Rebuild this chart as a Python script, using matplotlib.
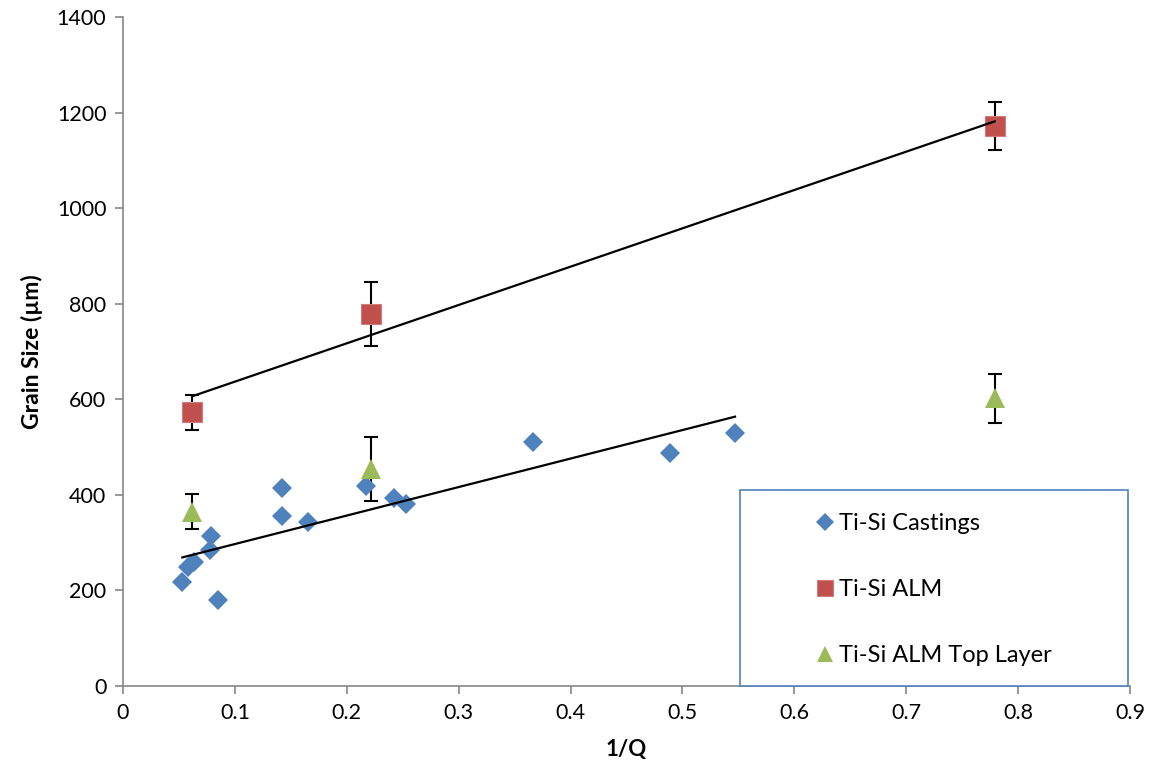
import numpy as np
import matplotlib
matplotlib.use("Agg")
from matplotlib import pyplot as plt
from matplotlib.patches import Rectangle

plt.rcParams['font.family'] = ['Lato', 'DejaVu Sans']

# Ti-Si castings (1/Q, grain size)
cast_x = [0.053, 0.058, 0.063, 0.078, 0.079, 0.085, 0.142, 0.142, 0.165, 0.217, 0.242, 0.253, 0.366, 0.489, 0.547]
cast_y = [218, 250, 260, 285, 314, 179, 414, 356, 343, 418, 394, 381, 511, 487, 529]

# Ti-Si ALM
alm_x = [0.062, 0.222, 0.779]
alm_y = [573, 778, 1172]
alm_err = [37, 67, 50]

# Ti-Si ALM top layer
top_x = [0.062, 0.222, 0.779]
top_y = [365, 454, 602]
top_err = [37, 67, 52]

xticks = [0, 0.1, 0.2, 0.3, 0.4, 0.5, 0.6, 0.7, 0.8, 0.9]
xticklabels = ['0', '0.1', '0.2', '0.3', '0.4', '0.5', '0.6', '0.7', '0.8', '0.9']
yticks = [0, 200, 400, 600, 800, 1000, 1200, 1400]

blue = '#4F81BD'
red = '#C0504D'
green = '#9BBB59'
grey = '#868686'

fig = plt.figure(figsize=(11.54, 7.75), dpi=100)
ax = fig.add_axes([0.1066, 0.1148, 0.8726, 0.8632])

# error bars below markers
ax.errorbar(alm_x, alm_y, yerr=alm_err, fmt='none', ecolor='black', elinewidth=1.5, capsize=5, capthick=1.5, zorder=2)
ax.errorbar(top_x, top_y, yerr=top_err, fmt='none', ecolor='black', elinewidth=1.5, capsize=5, capthick=1.5, zorder=2)

ax.plot(cast_x, cast_y, 'D', color=blue, markersize=10.5, markeredgewidth=0, label='Ti-Si Castings', zorder=3)
ax.plot(alm_x, alm_y, 's', color=red, markersize=14, markeredgecolor='#D27C7A', markeredgewidth=0.8, label='Ti-Si ALM', zorder=3)
ax.plot(top_x, top_y, '^', color=green, markersize=14, markeredgewidth=0, label='Ti-Si ALM Top Layer', zorder=3)

# linear trendlines
c = np.polyfit(cast_x, cast_y, 1)
xx = np.array([min(cast_x), max(cast_x)])
ax.plot(xx, np.polyval(c, xx), color='black', linewidth=1.6, zorder=4)
a = np.polyfit(alm_x, alm_y, 1)
xx = np.array([min(alm_x), max(alm_x)])
ax.plot(xx, np.polyval(a, xx), color='black', linewidth=1.6, zorder=4)

ax.set_xlim(0, 0.9)
ax.set_ylim(0, 1400)
ax.set_xticks(xticks)
ax.set_xticklabels(xticklabels)
ax.set_yticks(yticks)
for s in ['top', 'right']:
    ax.spines[s].set_visible(False)
for s in ['left', 'bottom']:
    ax.spines[s].set_color(grey)
    ax.spines[s].set_linewidth(1.2)
ax.tick_params(direction='out', length=6, width=1.2, color=grey, labelsize=15.5, pad=6)

ax.set_xlabel('1/Q', fontsize=16, fontweight='bold', labelpad=12)
ax.set_ylabel('Grain Size (µm)', fontsize=16.5, fontweight='bold', labelpad=10)

# legend box
ax.add_patch(Rectangle((0.6127, 0.0), 0.3853, 0.293, transform=ax.transAxes, fill=True,
                       facecolor='white', edgecolor=blue, linewidth=1.2, zorder=5, clip_on=False))
leg = ax.legend(loc='upper left', bbox_to_anchor=(0.6885, 0.258), frameon=False, fontsize=17,
                labelspacing=1.9, handlelength=0.7, handletextpad=0.25, borderpad=0, borderaxespad=0,
                markerscale=0.85)
leg.set_zorder(6)

fig.savefig('out.png', dpi=100)
